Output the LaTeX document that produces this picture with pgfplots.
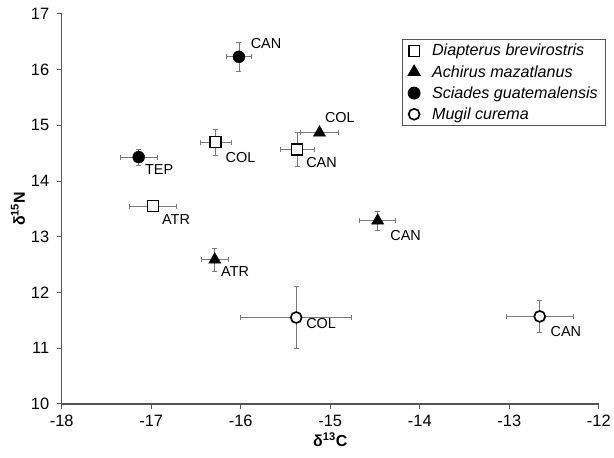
\documentclass[border=0pt]{standalone}
\usepackage{fontspec}
\setmainfont{Liberation Sans}
\usepackage{pgfplots}
\pgfplotsset{compat=1.18}
\definecolor{axgray}{RGB}{85,85,85}
\definecolor{errgray}{RGB}{120,120,120}

\begin{document}
\begin{tikzpicture}
\begin{axis}[
  name=ax,
  scale only axis,
  width=540pt, height=392pt,
  xmin=-18, xmax=-12, ymin=10, ymax=17,
  xtick distance=1, ytick distance=1,
  axis lines*=left,
  axis line style={axgray, line width=1.5pt},
  tick align=outside,
  major tick length=5pt,
  tick style={axgray, line width=0.9pt},
  /pgf/number format/assume math mode=true,
  ticklabel style={font=\fontsize{16.5}{18}\selectfont},
  xticklabel style={yshift=-3pt},
  yticklabel style={xshift=-4pt},
  xlabel={\textbf{δ\textsuperscript{13}C}},
  ylabel={\textbf{δ\textsuperscript{15}N}},
  xlabel style={at={(axis description cs:0.5,-0.092)}, anchor=center, font=\fontsize{16}{18}\selectfont},
  ylabel style={at={(axis description cs:-0.0815,0.5)}, anchor=center, font=\fontsize{16}{18}\selectfont},
  legend style={at={(rel axis cs:0.633,0.936)}, anchor=north west,
    draw=axgray, line width=0.9pt, font=\fontsize{16.2}{19}\selectfont\itshape,
    row sep=4pt, inner xsep=6pt, inner ysep=3pt,
    /tikz/every odd column/.append style={column sep=10pt}},
  legend cell align=left,
  error bars/error bar style={errgray, line width=0.7pt},
  error bars/error mark options={errgray, line width=0.7pt, mark size=2.5pt, rotate=90},
  clip=false,
]
% Diapterus brevirostris
\addplot[only marks, mark=square*, mark size=5.5pt,
  mark options={draw=black, fill=white, line width=1.7pt},
  error bars/.cd, x dir=both, x explicit, y dir=both, y explicit]
  coordinates {
  (-16.98,13.55) +- (0.26,0.05)
  (-16.28,14.70) +- (0.17,0.23)
  (-15.37,14.57) +- (0.19,0.30)
};
\addlegendentry{Diapterus brevirostris}
% Achirus mazatlanus
\addplot[only marks, mark=triangle*, mark size=7pt,
  mark options={draw=black, fill=black},
  error bars/.cd, x dir=both, x explicit, y dir=both, y explicit]
  coordinates {
  (-15.12,14.87) +- (0.21,0.05)
  (-14.47,13.29) +- (0.20,0.17)
  (-16.29,12.59) +- (0.15,0.21)
};
\addlegendentry{Achirus mazatlanus}
% Sciades guatemalensis
\addplot[only marks, mark=*, mark size=6pt,
  mark options={draw=black, fill=black},
  error bars/.cd, x dir=both, x explicit, y dir=both, y explicit]
  coordinates {
  (-16.02,16.23) +- (0.14,0.26)
  (-17.14,14.43) +- (0.21,0.14)
};
\addlegendentry{Sciades guatemalensis}
% Mugil curema
\addplot[only marks, mark=*, mark size=5.5pt,
  mark options={draw=black, fill=white, line width=1.7pt},
  error bars/.cd, x dir=both, x explicit, y dir=both, y explicit]
  coordinates {
  (-15.38,11.55) +- (0.62,0.56)
  (-12.66,11.57) +- (0.37,0.29)
};
\addlegendentry{Mugil curema}

\begin{scope}[every node/.style={anchor=west, inner sep=0pt, font=\fontsize{14.5}{16}\selectfont}]
\node at (axis cs:-15.89,16.46) {CAN};
\node at (axis cs:-16.17,14.43) {COL};
\node at (axis cs:-17.07,14.20) {TEP};
\node at (axis cs:-16.88,13.30) {ATR};
\node at (axis cs:-15.27,14.34) {CAN};
\node at (axis cs:-15.06,15.14) {COL};
\node at (axis cs:-14.33,13.02) {CAN};
\node at (axis cs:-16.22,12.375) {ATR};
\node at (axis cs:-15.27,11.45) {COL};
\node at (axis cs:-12.54,11.30) {CAN};
\end{scope}
\end{axis}
\path ([shift={(-62pt,-54pt)}]ax.south west) rectangle ([shift={(12pt,14pt)}]ax.north east);
\end{tikzpicture}
\end{document}
